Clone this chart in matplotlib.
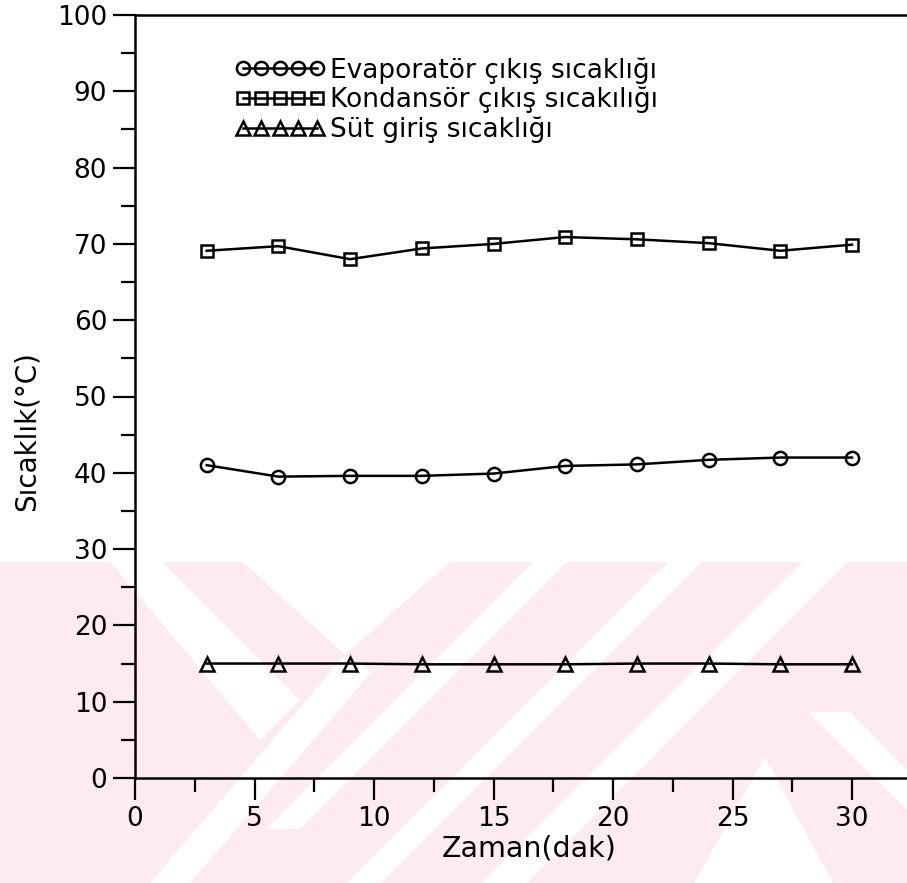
import matplotlib
matplotlib.use("Agg")
import matplotlib.pyplot as plt
from matplotlib.patches import Polygon
from matplotlib.ticker import MultipleLocator

# measurements, every 3 minutes
time_min = [3, 6, 9, 12, 15, 18, 21, 24, 27, 30]
evap_out = [41.0, 39.5, 39.6, 39.6, 39.9, 40.9, 41.1, 41.7, 42.0, 42.0]
cond_out = [69.1, 69.7, 68.0, 69.4, 70.0, 70.9, 70.6, 70.1, 69.1, 69.9]
milk_in = [15.0, 15.0, 15.0, 14.9, 14.9, 14.9, 15.0, 15.0, 14.9, 14.9]
series_labels = ["Evaporatör çıkış sıcaklığı",
                 "Kondansör çıkış sıcakılığı",
                 "Süt giriş sıcaklığı"]

W, H = 907, 883
PINK = "#fdebef"
plt.rcParams.update({"font.family": "DejaVu Sans", "font.size": 19})

fig = plt.figure(figsize=(W / 100, H / 100), dpi=100)


def px(pts):  # pixel coords (y down) -> figure fraction
    return [(x / W, 1 - y / H) for x, y in pts]


def band(pts, color):
    fig.add_artist(Polygon(px(pts), closed=True, transform=fig.transFigure,
                           facecolor=color, edgecolor="none", zorder=-2))


# faint background stamp behind the lower half
band([(0, 562), (W, 562), (W, H), (0, H)], PINK)
for poly in [
    [(110, 562), (162, 562), (300, 700), (260, 740)],
    [(243, 562), (450, 562), (345, 655)],
    [(345, 655), (372, 672), (190, H), (150, H)],
    [(533, 562), (567, 562), (300, 829), (266, 829)],
    [(668, 562), (702, 562), (381, H), (347, H)],
    [(803, 562), (848, 562), (527, H), (482, H)],
    [(808, 712), (850, 712), (W, 770), (W, 810)],
    [(765, 757), (833, H), (694, H)],
]:
    band(poly, "white")

ax = fig.add_axes([135 / W, 1 - 778 / H, 33 * 23.9 / W, 763 / H])
ax.set_facecolor("none")

mk = dict(color="black", lw=1.8, mfc="none", mew=1.8)
ax.plot(time_min, evap_out, marker="o", ms=9.5, label=series_labels[0], **mk)
ax.plot(time_min, cond_out, marker="s", ms=8.5, label=series_labels[1], **mk)
ax.plot(time_min, milk_in, marker="^", ms=9.5, label=series_labels[2], **mk)

ax.set_xlim(0, 33)
ax.set_ylim(0, 100)
ax.xaxis.set_major_locator(MultipleLocator(5))
ax.xaxis.set_minor_locator(MultipleLocator(2.5))
ax.yaxis.set_major_locator(MultipleLocator(10))
ax.yaxis.set_minor_locator(MultipleLocator(5))
ax.tick_params(which="major", direction="out", length=16, width=1.6, pad=4, labelsize=19)
ax.tick_params(which="minor", direction="out", length=10, width=1.6)
for s in ax.spines.values():
    s.set_linewidth(1.8)

ax.set_xlabel("Zaman(dak)", fontsize=20.5, labelpad=2)
fig.text(27 / W, 1 - 431 / H, "Sıcaklık(°C)", rotation=90, ha="center", va="center", fontsize=20)

ax.legend(loc="upper left", bbox_to_anchor=(235 / W, 1 - 57 / H), bbox_transform=fig.transFigure,
          frameon=False, numpoints=5, handlelength=3.4, handletextpad=0.2,
          labelspacing=0.12, borderpad=0, borderaxespad=0, fontsize=19)

fig.savefig("out.png", dpi=100)
